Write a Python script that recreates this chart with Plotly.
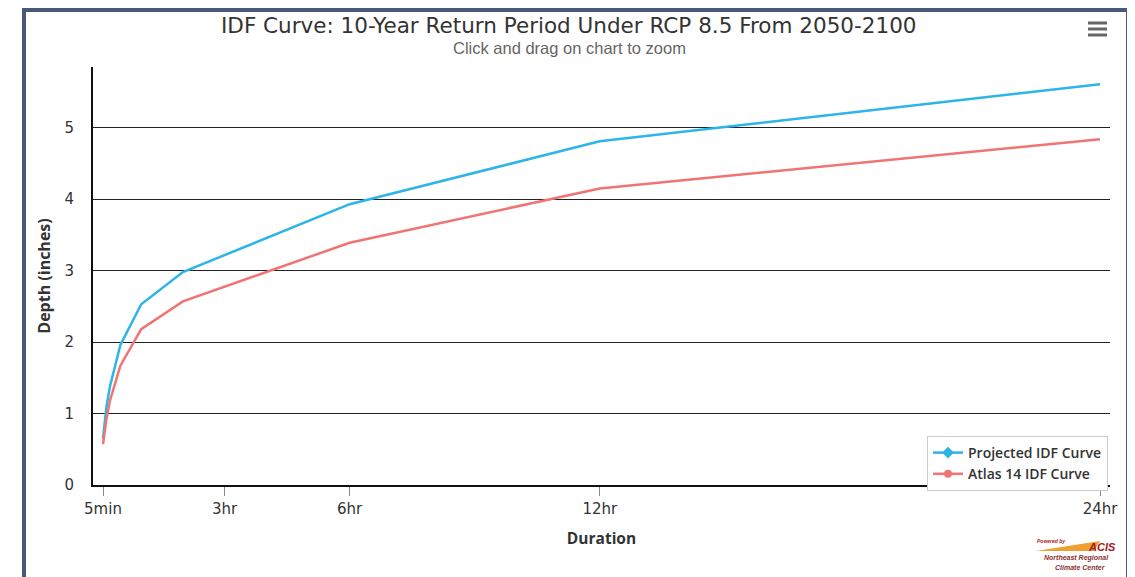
import plotly.graph_objects as go

# Data (durations in minutes)
durations = [5, 10, 15, 30, 60, 120, 360, 720, 1440]
projected = [0.65, 1.10, 1.38, 1.96, 2.53, 2.98, 3.93, 4.81, 5.61]
atlas14 = [0.57, 0.93, 1.18, 1.67, 2.18, 2.57, 3.39, 4.15, 4.84]
tick_vals = [5, 180, 360, 720, 1440]
tick_text = ["5min", "3hr", "6hr", "12hr", "24hr"]

BLUE = "#2cb5e6"
RED = "#f07474"

# page body has an 8px margin; figure is laid out in reference pixel coords
OFF = 8
W, H = 1135 - OFF, 577 - OFF
L, R, T, B = 93 - OFF, 25, 67 - OFF, 92
pw, ph = W - L - R, H - T - B


def px(x):
    return (x - OFF - L) / pw


def py(y):
    return (H - B - (y - OFF)) / ph


fig = go.Figure()
fig.add_trace(go.Scatter(x=durations, y=projected, mode="lines",
                         line=dict(color=BLUE, width=2.5), showlegend=False,
                         name="Projected IDF Curve"))
fig.add_trace(go.Scatter(x=durations, y=atlas14, mode="lines",
                         line=dict(color=RED, width=2.5), showlegend=False,
                         name="Atlas 14 IDF Curve"))
# legend entries
fig.add_trace(go.Scatter(x=[None], y=[None], mode="lines+markers",
                         line=dict(color=BLUE, width=2.5),
                         marker=dict(symbol="diamond", size=9, color=BLUE),
                         name="Projected IDF Curve"))
fig.add_trace(go.Scatter(x=[None], y=[None], mode="lines+markers",
                         line=dict(color=RED, width=2.5),
                         marker=dict(symbol="circle", size=8, color=RED),
                         name="Atlas 14 IDF Curve"))

shapes = [
    # outer frame
    dict(type="rect", xref="paper", yref="paper",
         x0=px(24), x1=px(1128), y0=py(640), y1=py(10),
         line=dict(color="#4a5a76", width=4), fillcolor="rgba(0,0,0,0)",
         layer="above"),
]
# hamburger menu
for yy in (23, 29, 35):
    shapes.append(dict(type="line", xref="paper", yref="paper",
                       x0=px(1088), x1=px(1107), y0=py(yy), y1=py(yy),
                       line=dict(color="#666666", width=3)))
# ACIS logo wedge
shapes.append(dict(type="path", xref="paper", yref="paper",
                   path=f"M {px(1036)} {py(551)} L {px(1094)} {py(551)} L {px(1100)} {py(541)} Z",
                   fillcolor="#f0a030", line=dict(width=0)))

annotations = [
    dict(text="IDF Curve: 10-Year Return Period Under RCP 8.5 From 2050-2100",
         xref="paper", yref="paper", x=px(569), y=py(25), showarrow=False,
         xanchor="center", yanchor="middle",
         font=dict(family="DejaVu Sans", size=21.5, color="#333333")),
    dict(text="Click and drag on chart to zoom",
         xref="paper", yref="paper", x=px(569), y=py(48), showarrow=False,
         xanchor="center", yanchor="middle",
         font=dict(family="Liberation Sans Narrow, Liberation Sans", size=16.5, color="#666666")),
    dict(text="<i><b>Powered by</b></i>", xref="paper", yref="paper",
         x=px(1051), y=py(541), showarrow=False, xanchor="center", yanchor="middle",
         font=dict(family="Liberation Sans", size=5, color="#b22222")),
    dict(text="<i><b>ACIS</b></i>", xref="paper", yref="paper",
         x=px(1102), y=py(547), showarrow=False, xanchor="center", yanchor="middle",
         font=dict(family="Liberation Sans", size=11, color="#a01818")),
    dict(text="<i><b>Northeast Regional</b></i>", xref="paper", yref="paper",
         x=px(1076), y=py(558), showarrow=False, xanchor="center", yanchor="middle",
         font=dict(family="Liberation Sans", size=7, color="#8a3030")),
    dict(text="<i><b>Climate Center</b></i>", xref="paper", yref="paper",
         x=px(1080), y=py(567), showarrow=False, xanchor="center", yanchor="middle",
         font=dict(family="Liberation Sans", size=7, color="#8a3030")),
]

fig.update_layout(
    width=W, height=H,
    margin=dict(l=L, r=R, t=T, b=B),
    paper_bgcolor="white", plot_bgcolor="white",
    font=dict(family="DejaVu Sans", color="#333333"),
    xaxis=dict(range=[-9.4, 1454.4], tickvals=tick_vals, ticktext=tick_text,
               showgrid=False, zeroline=False, showline=True,
               linecolor="#111111", linewidth=2, ticks="outside",
               ticklen=9, tickcolor="#888888", tickwidth=1,
               tickfont=dict(family="DejaVu Sans", size=15, color="#333333"),
               title=dict(text="<b>Duration</b>", standoff=16,
                          font=dict(family="Open Sans", size=15.5, color="#333333"))),
    yaxis=dict(range=[0, 5.85], tickvals=[0, 1, 2, 3, 4, 5],
               showgrid=True, gridcolor="#222222", gridwidth=1,
               zeroline=False, showline=True, linecolor="#111111", linewidth=2,
               ticks="", ticklabelstandoff=14,
               tickfont=dict(family="DejaVu Sans", size=15, color="#333333"),
               title=dict(text="<b>Depth (inches)</b>", standoff=10,
                          font=dict(family="Open Sans", size=16, color="#333333"))),
    legend=dict(x=px(927), y=py(436), xanchor="left", yanchor="top",
                bgcolor="white", bordercolor="#cccccc", borderwidth=1,
                font=dict(family="Open Sans", size=14, color="#333333", weight=600),
                itemwidth=30, tracegroupgap=4),
    shapes=shapes, annotations=annotations,
)

fig.write_html("out.html")
